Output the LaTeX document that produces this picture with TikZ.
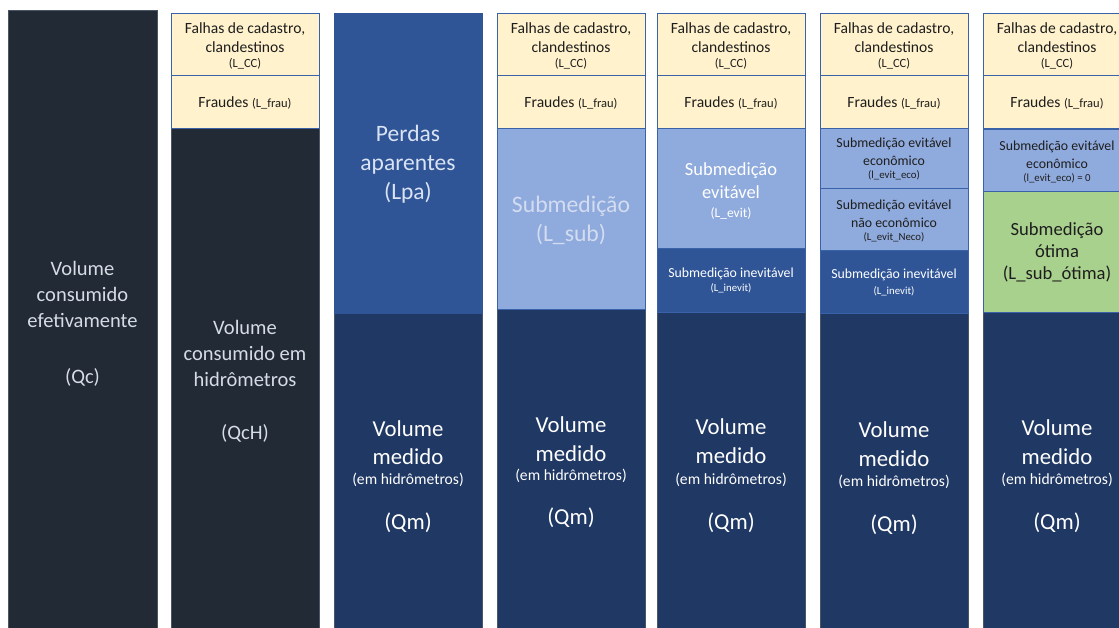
\documentclass[tikz,border=0pt]{standalone}
\usepackage{fontspec}
\setmainfont{Carlito}
\definecolor{darkcol}{HTML}{222A35}
\definecolor{darkedge}{HTML}{4A5566}
\definecolor{navy}{HTML}{203864}
\definecolor{midblue}{HTML}{2F5597}
\definecolor{lightblue}{HTML}{8FAADC}
\definecolor{cream}{HTML}{FFF2CC}
\definecolor{subgreen}{HTML}{A9D18E}
\definecolor{edge}{HTML}{3A62A8}
\definecolor{paletext}{HTML}{DAE3F3}
\definecolor{subtext}{HTML}{D3DCF0}
\definecolor{greytext}{HTML}{D6DCE5}
\definecolor{inktext}{HTML}{1E1E1E}
\newcommand{\fsz}[2]{\fontsize{#1}{#2}\selectfont}
\begin{document}
\begin{tikzpicture}[x=1pt,y=-1pt,
  cell/.style={draw=edge, line width=0.9pt, anchor=north west, inner sep=0pt, minimum width=148pt},
  lbl/.style={align=center, inner sep=0pt},
  big/.style={lbl, font=\fsz{20.5}{26}},
  med/.style={lbl, font=\fsz{22.8}{28.5}, text=white},
  small/.style={lbl, font=\fsz{15.6}{18.5}},
  tiny/.style={lbl, font=\fsz{12.5}{14}},
  note/.style={lbl, font=\fsz{13.8}{17.5}},
  fine/.style={lbl, font=\fsz{10.8}{12}}]
\useasboundingbox (0,0) rectangle (1119,627);
\clip (0,0) rectangle (1119,627);

% ---- column 1: effective consumption
\node[cell, draw=darkedge, fill=darkcol, minimum width=149pt, minimum height=640pt] (c1) at (8,10) {};
\node[big, text=greytext] (c1t) at (82.5,294) {Volume\\consumido\\efetivamente};
\node[big, text=greytext] (c1q) at (82.5,377) {(Qc)};

% ---- column 2: metered consumption
\node[cell, draw=darkedge, fill=darkcol, minimum height=520pt] (c2m) at (171,128) {};
\node[cell, fill=cream, minimum height=62pt] (c2cc) at (171,13) {};
\node[cell, fill=cream, minimum height=53pt] (c2fr) at (171,75) {};
\node[small, text=inktext] (c2cct) at (245,37.5) {Falhas de cadastro,\\clandestinos};
\node[tiny, text=inktext] (c2ccl) at (245,64) {(L\_CC)};
\node[small, text=inktext] (c2frt) at (245,103) {Fraudes {\fsz{12.5}{14}(L\_frau)}};
\node[big, text=greytext] (c2t) at (245,353) {Volume\\consumido em\\hidrômetros};
\node[big, text=greytext] (c2q) at (245,433) {(QcH)};

% ---- column 3: apparent losses
\node[cell, draw=darkedge, fill=navy, minimum height=330pt] (c3m) at (334,313) {};
\node[cell, draw=midblue, fill=midblue, minimum height=300pt] (c3l) at (334,13) {};
\node[lbl, font=\fsz{23.5}{29}, text=paletext] (c3lt) at (408,164) {Perdas\\aparentes\\(Lpa)};
\node[med] (c3vm) at (408,442.5) {Volume\\medido};
\node[small, text=white] (c3h) at (408,480) {(em hidrômetros)};
\node[med] (c3q) at (408,523) {(Qm)};

% ---- column 4: undermetering
\node[cell, draw=darkedge, fill=navy, minimum height=330pt] (c4m) at (497,309) {};
\node[cell, fill=lightblue, minimum height=181pt] (c4s) at (497,128) {};
\node[cell, fill=cream, minimum height=62pt] (c4cc) at (497,13) {};
\node[cell, fill=cream, minimum height=53pt] (c4fr) at (497,75) {};
\node[small, text=inktext] (c4cct) at (571,37.5) {Falhas de cadastro,\\clandestinos};
\node[tiny, text=inktext] (c4ccl) at (571,64) {(L\_CC)};
\node[small, text=inktext] (c4frt) at (571,103) {Fraudes {\fsz{12.5}{14}(L\_frau)}};
\node[lbl, font=\fsz{23.7}{29}, text=subtext] (c4st) at (571,220.5) {Submedição\\(L\_sub)};
\node[med] (c4vm) at (571,439) {Volume\\medido};
\node[small, text=white] (c4h) at (571,476) {(em hidrômetros)};
\node[med] (c4q) at (571,518) {(Qm)};

% ---- column 5: avoidable / unavoidable undermetering
\node[cell, draw=darkedge, fill=navy, minimum height=330pt] (c5m) at (657,312) {};
\node[cell, fill=midblue, minimum height=64pt] (c5i) at (657,248) {};
\node[cell, fill=lightblue, minimum height=120pt] (c5e) at (657,128) {};
\node[cell, fill=cream, minimum height=62pt] (c5cc) at (657,13) {};
\node[cell, fill=cream, minimum height=53pt] (c5fr) at (657,75) {};
\node[small, text=inktext] (c5cct) at (731,37.5) {Falhas de cadastro,\\clandestinos};
\node[tiny, text=inktext] (c5ccl) at (731,64) {(L\_CC)};
\node[small, text=inktext] (c5frt) at (731,103) {Fraudes {\fsz{12.5}{14}(L\_frau)}};
\node[lbl, font=\fsz{18.5}{23}, text=white] (c5et) at (731,180.5) {Submedição\\evitável};
\node[lbl, font=\fsz{13.5}{15}, text=white] (c5el) at (731,213) {(L\_evit)};
\node[note, text=white] (c5it) at (731,274) {Submedição inevitável};
\node[fine, text=white] (c5il) at (731,288.5) {(L\_inevit)};
\node[med] (c5vm) at (731,441) {Volume\\medido};
\node[small, text=white] (c5h) at (731,480) {(em hidrômetros)};
\node[med] (c5q) at (731,523) {(Qm)};

% ---- column 6: economic / non-economic avoidable undermetering
\node[cell, draw=darkedge, fill=navy, minimum height=330pt] (c6m) at (820,313) {};
\node[cell, fill=midblue, minimum height=63pt] (c6i) at (820,250) {};
\node[cell, fill=lightblue, minimum height=62pt] (c6n) at (820,188) {};
\node[cell, fill=lightblue, minimum height=60pt] (c6e) at (820,128) {};
\node[cell, fill=cream, minimum height=62pt] (c6cc) at (820,13) {};
\node[cell, fill=cream, minimum height=53pt] (c6fr) at (820,75) {};
\node[small, text=inktext] (c6cct) at (894,37.5) {Falhas de cadastro,\\clandestinos};
\node[tiny, text=inktext] (c6ccl) at (894,64) {(L\_CC)};
\node[small, text=inktext] (c6frt) at (894,103) {Fraudes {\fsz{12.5}{14}(L\_frau)}};
\node[note, text=inktext] (c6et) at (894,152) {Submedição evitável\\econômico};
\node[fine, text=inktext] (c6el) at (894,175.5) {(l\_evit\_eco)};
\node[note, text=inktext] (c6nt) at (894,214) {Submedição evitável\\não econômico};
\node[fine, text=inktext] (c6nl) at (894,237.5) {(L\_evit\_Neco)};
\node[note, text=white] (c6it) at (894,275) {Submedição inevitável};
\node[fine, text=white] (c6il) at (894,291) {(L\_inevit)};
\node[med] (c6vm) at (894,444) {Volume\\medido};
\node[small, text=white] (c6h) at (894,482) {(em hidrômetros)};
\node[med] (c6q) at (894,525) {(Qm)};

% ---- column 7: optimal undermetering
\node[cell, draw=darkedge, fill=navy, minimum height=330pt] (c7m) at (983,312) {};
\node[cell, fill=subgreen, minimum height=121pt] (c7g) at (983,191) {};
\node[cell, fill=lightblue, minimum height=62pt] (c7e) at (983,129) {};
\node[cell, fill=cream, minimum height=62pt] (c7cc) at (983,13) {};
\node[cell, fill=cream, minimum height=53pt] (c7fr) at (983,75) {};
\node[small, text=inktext] (c7cct) at (1057,37.5) {Falhas de cadastro,\\clandestinos};
\node[tiny, text=inktext] (c7ccl) at (1057,64) {(L\_CC)};
\node[small, text=inktext] (c7frt) at (1057,103) {Fraudes {\fsz{12.5}{14}(L\_frau)}};
\node[note, text=inktext] (c7et) at (1057,155) {Submedição evitável\\econômico};
\node[fine, text=inktext] (c7el) at (1057,178) {(l\_evit\_eco) = 0};
\node[lbl, font=\fsz{18.6}{22}, text=inktext] (c7gt) at (1057,252) {Submedição\\ótima\\(L\_sub\_ótima)};
\node[med] (c7vm) at (1057,442) {Volume\\medido};
\node[small, text=white] (c7h) at (1057,480) {(em hidrômetros)};
\node[med] (c7q) at (1057,523) {(Qm)};
\end{tikzpicture}
\end{document}
